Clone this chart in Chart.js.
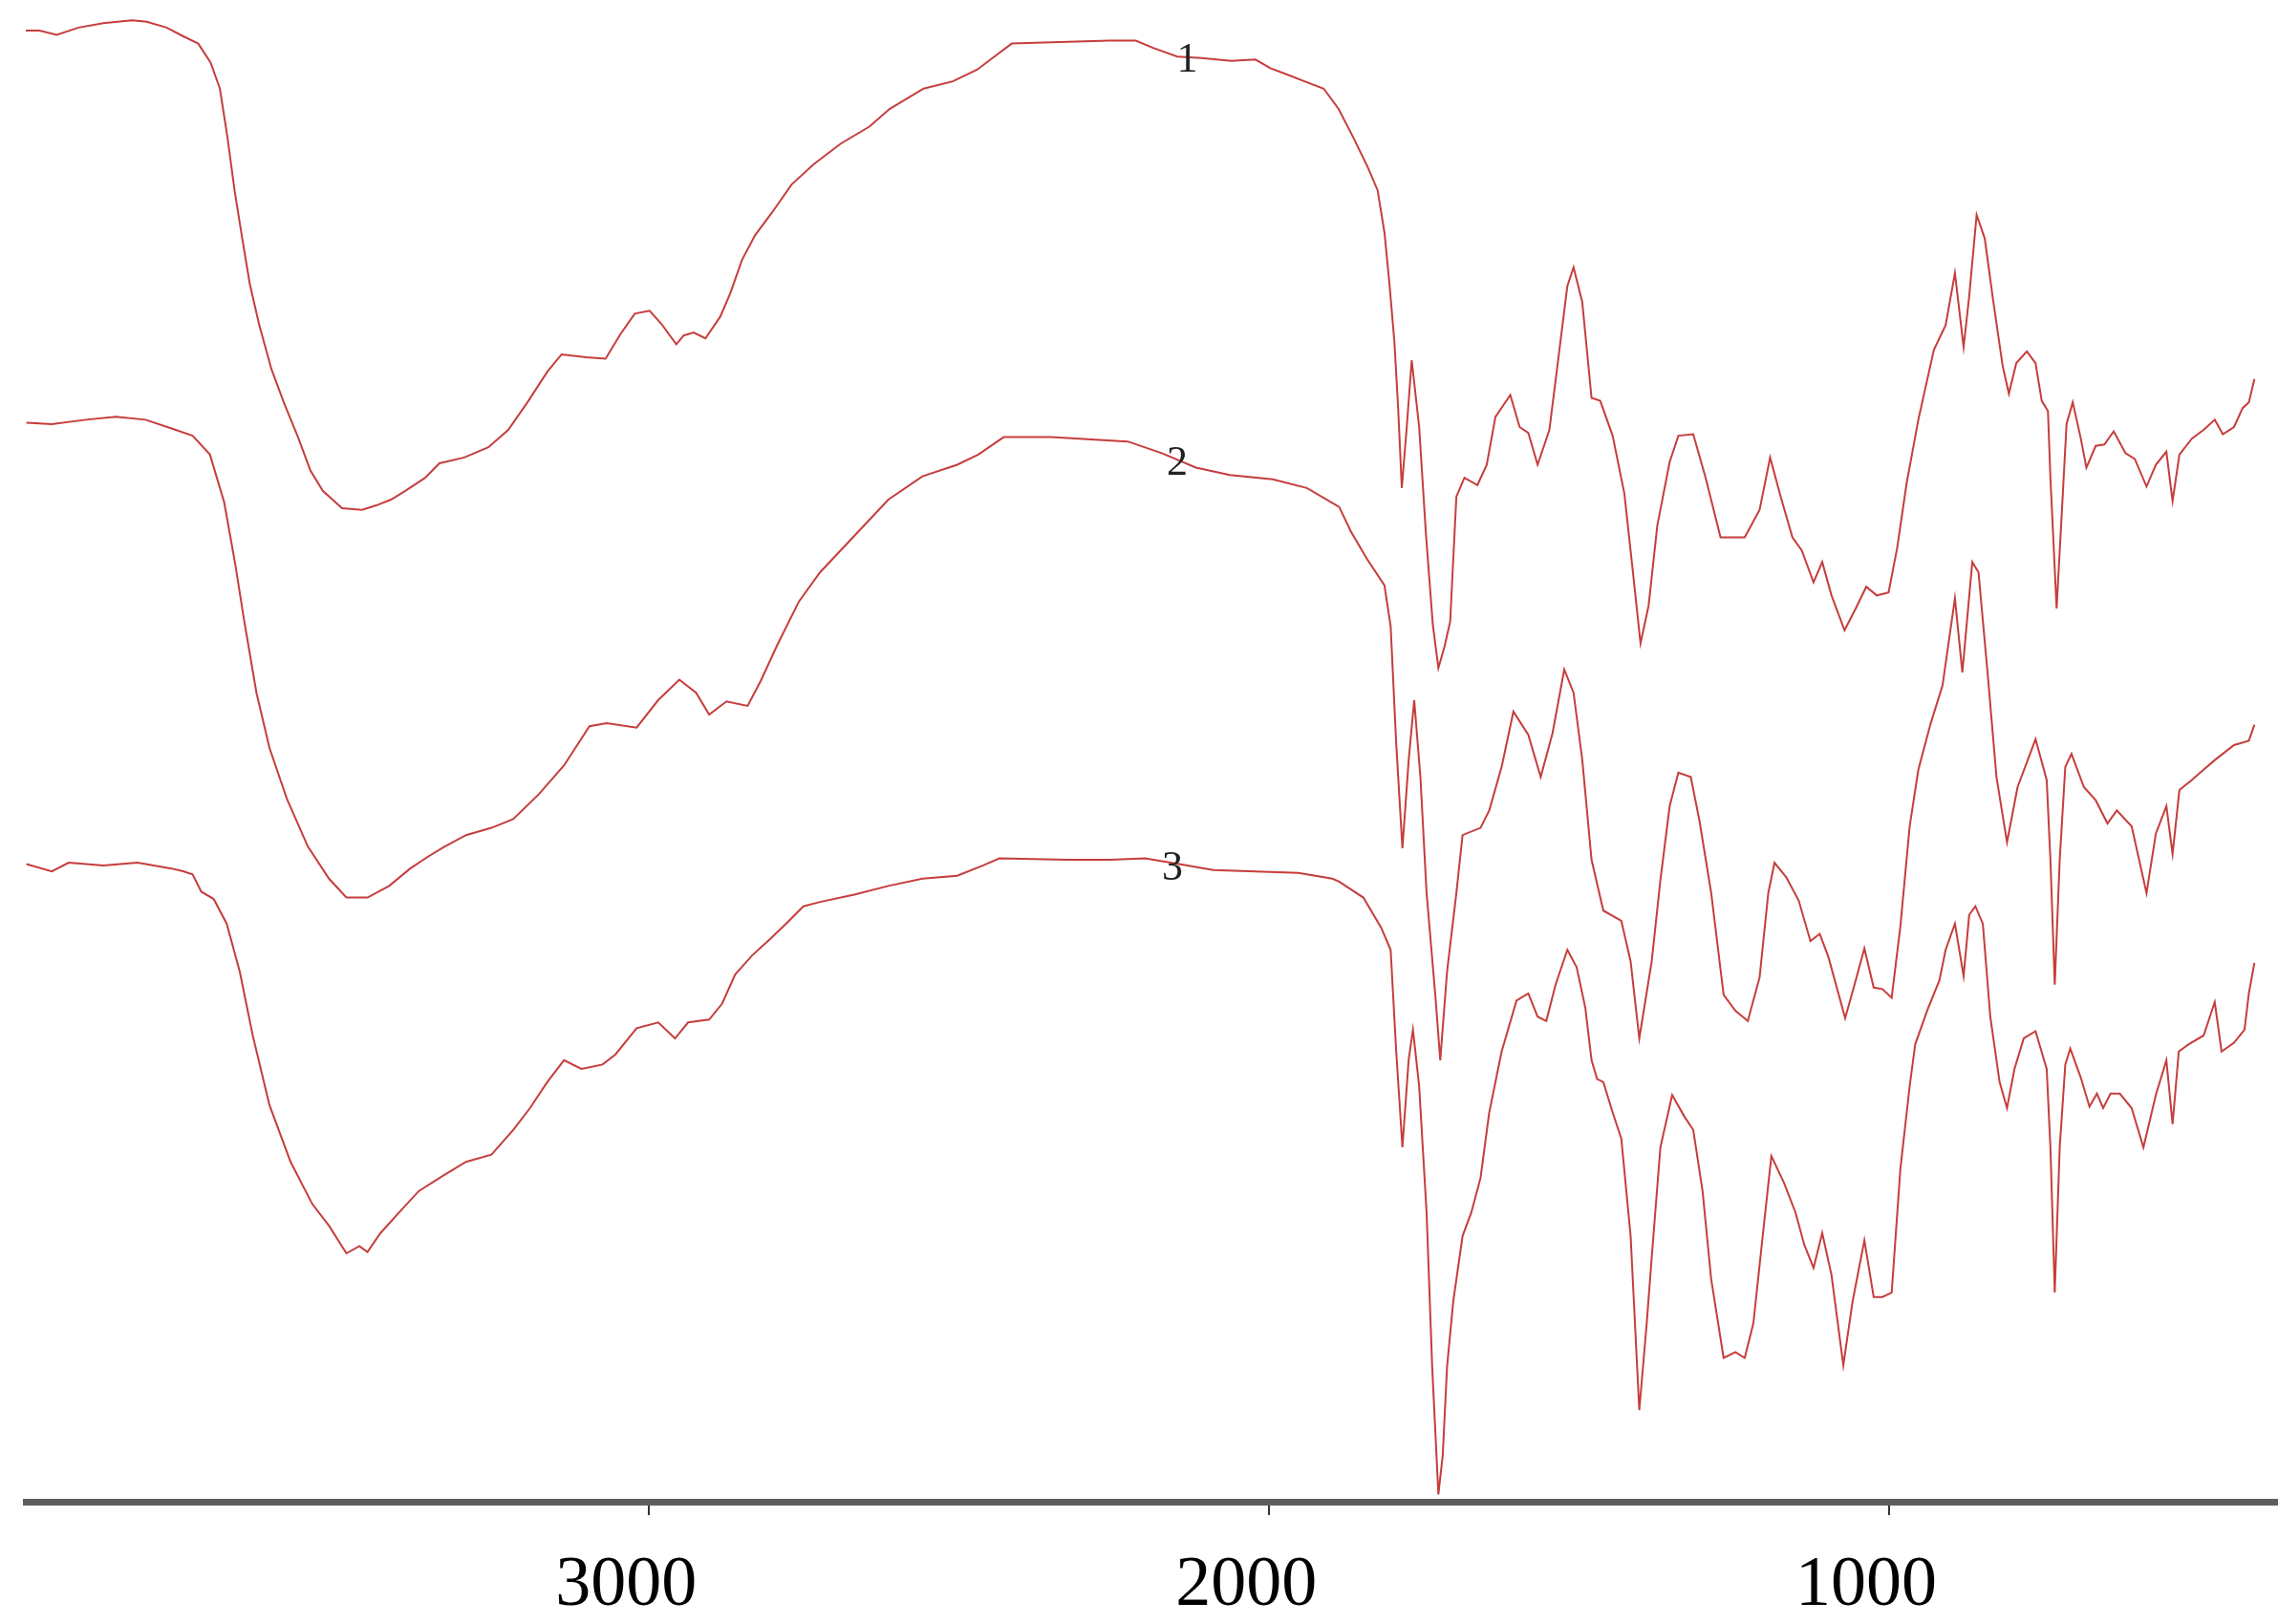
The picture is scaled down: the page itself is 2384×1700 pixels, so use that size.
<!DOCTYPE html>
<html>
<head>
<meta charset="utf-8">
<script src="https://cdn.jsdelivr.net/npm/chart.js@4.4.0/dist/chart.umd.min.js"></script>
<style>
  html, body { margin: 0; padding: 0; background: #fff; }
  #wrap { width: 2384px; height: 1700px; }
</style>
</head>
<body>
<div id="wrap"><canvas id="ftir" width="2384" height="1700"></canvas></div>
<script>
// wavenumber (cm-1) and transmittance (a.u., spectra offset)
const wn1 = [4005,3983,3955,3920,3880,3857,3833,3810,3778,3751,3727,3707,3692,3680,3668,3656,3644,3629,3609,3589,3566,3546,3526,3495,3463,3440,3416,3393,3361,3338,3298,3259,3227,3196,3164,3141,3101,3070,3046,3023,2999,2980,2956,2944,2928,2909,2885,2869,2850,2829,2801,2770,2734,2691,2644,2612,2557,2510,2471,2443,2415,2337,2258,2215,2187,2148,2109,2061,2022,1998,1967,1943,1912,1888,1865,1841,1825,1814,1806,1798,1792,1786,1778,1770,1758,1747,1736,1727,1717,1708,1698,1685,1664,1649,1635,1611,1596,1582,1567,1548,1533,1519,1509,1495,1480,1466,1446,1427,1413,1401,1388,1374,1354,1340,1316,1296,1272,1233,1209,1192,1175,1156,1141,1122,1108,1093,1072,1054,1037,1020,1001,987,972,953,928,909,894,880,871,859,846,832,817,807,795,778,764,754,744,740,730,720,714,704,691,682,667,653,638,619,604,585,570,553,543,532,512,493,475,462,444,430,420,411];
const tr1 = [101.3,101.3,101.0,101.5,101.8,101.9,102.0,101.9,101.5,100.9,100.4,99.1,97.3,94.0,90.2,87.0,83.9,81.1,78.0,75.7,73.3,71.0,69.6,68.4,68.3,68.6,69.0,69.6,70.5,71.5,71.9,72.6,73.8,75.7,77.8,79.0,78.8,78.7,80.4,81.8,82.0,81.1,79.7,80.3,80.5,80.1,81.6,83.2,85.5,87.2,88.8,90.7,92.1,93.5,94.7,95.9,97.3,97.8,98.6,99.5,100.4,100.5,100.6,100.6,100.1,99.5,99.4,99.2,99.3,98.7,98.2,97.8,97.3,95.9,94.0,91.9,90.3,87.4,83.9,79.9,75.4,69.8,74.0,78.6,74.0,66.6,60.4,57.4,58.9,60.6,69.2,70.5,70.0,71.4,74.7,76.2,74.0,73.6,71.4,73.8,78.9,83.7,85.0,82.6,76.0,75.8,73.4,69.4,63.9,59.1,61.7,67.2,71.6,73.4,73.5,70.5,66.4,66.4,68.3,71.9,69.2,66.4,65.5,63.3,64.7,62.4,60.0,61.5,63.0,62.4,62.6,65.7,70.1,74.5,79.3,81.0,84.6,79.5,83.0,88.6,87.0,82.6,78.2,76.3,78.4,79.2,78.4,75.8,75.1,70.5,61.5,69.4,74.2,75.7,73.2,71.2,72.7,72.8,73.7,72.2,71.8,69.9,71.4,72.3,68.9,72.1,73.2,73.8,74.5,73.5,74.0,75.3,75.7,77.3];

const wn2 = [4004,3963,3908,3860,3812,3770,3736,3708,3685,3667,3653,3633,3612,3584,3550,3516,3488,3454,3419,3385,3357,3330,3295,3254,3219,3178,3137,3096,3068,3020,2985,2951,2924,2903,2875,2841,2820,2793,2758,2724,2669,2614,2559,2503,2469,2428,2352,2228,2173,2118,2063,1994,1939,1887,1868,1842,1814,1804,1795,1785,1775,1766,1756,1746,1732,1724,1713,1698,1688,1659,1645,1625,1606,1582,1562,1543,1524,1509,1495,1480,1461,1432,1417,1403,1383,1369,1354,1340,1320,1306,1287,1267,1248,1228,1209,1195,1185,1166,1146,1127,1112,1098,1071,1054,1040,1025,1011,996,982,967,953,933,914,894,882,866,856,841,827,810,793,764,746,740,733,725,716,706,686,667,648,633,609,585,570,553,543,532,512,493,474,444,420,411];
const tr2 = [74.3,74.2,74.5,74.7,74.5,73.9,73.4,72.1,68.8,64.5,60.7,55.7,51.9,48.4,45.1,42.9,41.6,41.6,42.4,43.6,44.4,45.1,45.9,46.4,47.0,48.7,50.7,53.4,53.6,53.3,55.2,56.6,55.7,54.2,55.1,54.8,56.5,59.0,62.0,64.0,66.5,69.0,70.6,71.4,72.1,73.3,73.3,73.0,72.2,71.2,70.7,70.4,69.8,68.5,66.8,64.9,63.1,60.3,52.2,45.0,51.0,55.2,49.9,41.9,34.9,30.4,36.5,41.9,45.9,46.4,47.6,50.6,54.4,52.8,49.9,52.9,57.3,55.7,51.1,44.2,40.7,40.0,37.2,31.9,37.2,42.8,47.9,50.2,49.9,46.9,41.9,34.9,33.8,33.1,36.1,41.9,44.0,43.0,41.4,38.6,39.1,37.5,33.3,35.9,38.1,35.4,35.3,34.7,39.6,46.5,50.4,53.6,56.2,62.2,57.1,64.7,64.0,56.9,49.9,45.4,49.2,52.5,49.7,44.2,35.6,44.2,50.6,51.5,49.2,48.3,46.7,47.6,46.5,41.9,46.0,47.9,44.6,49.0,49.7,50.4,51.1,52.1,52.4,53.5];

const wn3 = [4004,3963,3936,3880,3825,3770,3750,3736,3722,3702,3681,3660,3639,3612,3578,3543,3516,3488,3467,3454,3433,3399,3371,3330,3295,3254,3219,3192,3164,3137,3109,3075,3054,3020,2985,2958,2937,2903,2882,2861,2834,2806,2779,2751,2724,2669,2614,2559,2503,2462,2435,2325,2256,2200,2145,2090,2022,1953,1898,1887,1848,1819,1804,1795,1785,1775,1768,1758,1746,1737,1727,1720,1713,1703,1688,1674,1659,1645,1625,1601,1582,1567,1553,1538,1519,1504,1490,1480,1471,1461,1446,1432,1417,1403,1391,1383,1369,1350,1330,1316,1301,1287,1267,1248,1233,1219,1204,1190,1170,1151,1137,1122,1108,1093,1074,1059,1040,1025,1011,996,982,967,958,938,919,909,894,880,871,861,849,837,822,810,798,783,764,746,740,733,725,716,708,691,677,665,655,643,628,609,590,570,553,543,533,517,493,475,464,444,427,420,411];
const tr3 = [43.9,43.4,44.0,43.8,44.0,43.6,43.4,43.2,42.0,41.5,39.8,36.5,32.1,27.3,23.4,20.5,19.0,17.1,17.6,17.2,18.5,20.1,21.4,22.5,23.4,23.9,25.6,27.1,28.9,30.4,29.8,30.1,30.8,32.6,33.0,31.9,33.0,33.2,34.3,36.3,37.6,38.7,39.8,41.0,41.3,41.8,42.4,42.9,43.1,43.8,44.3,44.2,44.2,44.3,43.9,43.5,43.4,43.3,42.9,42.7,41.6,39.5,38.0,31.0,24.4,30.4,32.5,28.6,19.9,9.3,0.5,3.2,9.3,13.8,18.3,19.9,22.3,26.8,31.0,34.5,35.0,33.4,33.1,35.6,38.0,36.8,34.0,30.4,29.1,28.9,26.8,25.0,18.3,6.3,12.3,16.8,24.4,28.0,26.5,25.6,21.4,15.3,9.9,10.3,9.9,12.3,18.3,23.8,22.0,19.9,17.7,16.1,18.5,15.6,9.4,13.8,18.0,14.1,14.1,14.4,22.9,28.6,31.5,33.9,35.9,38.0,39.8,36.2,40.4,41.0,39.8,33.4,28.9,27.1,29.8,31.9,32.4,29.8,24.4,14.4,24.4,30.1,31.2,29.2,27.2,28.1,27.1,28.1,28.1,27.1,24.4,28.0,30.4,26.0,31.0,31.5,32.1,34.4,31.0,31.6,32.5,35.0,37.1];

const xTicks = [3000, 2000, 1000];
const curveNames = ["1", "2", "3"];
const nameWn = [2132, 2148, 2156];
const nameTr = [99.2, 71.5, 43.6];

const toPoints = (xs, ys) => xs.slice(0, Math.min(xs.length, ys.length)).map((x, i) => ({ x: x, y: ys[i] }));

const lineColor = "#c63d3d";
const spectrum = (pts) => ({
  data: pts,
  borderColor: lineColor,
  borderWidth: 2,
  pointRadius: 0,
  tension: 0,
  fill: false
});

// numbers 1, 2, 3 written next to each trace
const curveLabels = {
  id: "curveLabels",
  afterDatasetsDraw(chart) {
    const ctx = chart.ctx;
    const x = chart.scales.x;
    const y = chart.scales.y;
    ctx.save();
    ctx.font = '44px "Liberation Serif"';
    ctx.fillStyle = "#222";
    ctx.textAlign = "center";
    ctx.textBaseline = "middle";
    curveNames.forEach((n, i) => {
      ctx.fillText(n, x.getPixelForValue(nameWn[i]), y.getPixelForValue(nameTr[i]));
    });
    ctx.restore();
  }
};

new Chart(document.getElementById("ftir"), {
  type: "line",
  data: {
    datasets: [
      spectrum(toPoints(wn1, tr1)),
      spectrum(toPoints(wn2, tr2)),
      spectrum(toPoints(wn3, tr3))
    ]
  },
  options: {
    responsive: false,
    animation: false,
    devicePixelRatio: 1,
    layout: { padding: { left: 27, right: 0, top: 0, bottom: 0 } },
    plugins: { legend: { display: false }, tooltip: { enabled: false } },
    scales: {
      x: {
        type: "linear",
        reverse: true,
        min: 373,
        max: 4005,
        afterBuildTicks: (axis) => { axis.ticks = xTicks.map(v => ({ value: v })); },
        afterFit: (axis) => { axis.height = 128; },
        border: { display: true, color: "#5e5e5e", width: 7 },
        grid: { drawOnChartArea: false, drawTicks: true, tickLength: 14, color: "#333", lineWidth: 2 },
        ticks: {
          padding: 30,
          labelOffset: -24,
          color: "#000",
          font: { family: "Liberation Serif", size: 74 },
          maxRotation: 0,
          autoSkip: false,
          callback: (v) => String(v)
        }
      },
      y: {
        display: false,
        min: 0,
        max: 103.4
      }
    }
  },
  plugins: [curveLabels]
});
</script>
</body>
</html>
